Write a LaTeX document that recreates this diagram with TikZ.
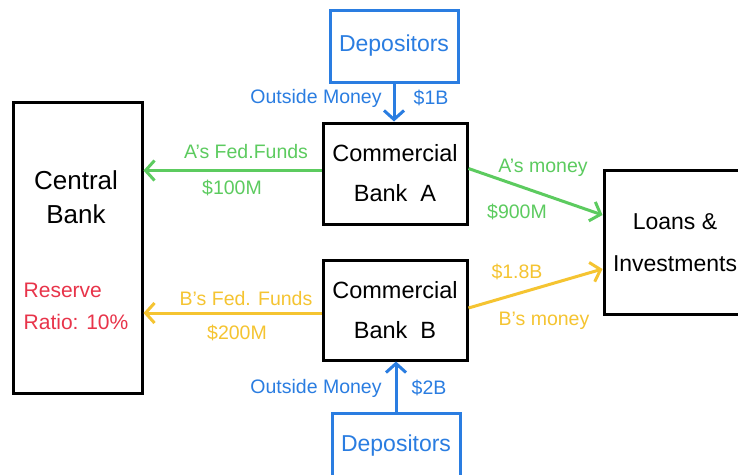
\documentclass[tikz,border=0pt]{standalone}
\usepackage{fontspec}
\setmainfont{Liberation Sans}
\usetikzlibrary{arrows.meta,calc}
\definecolor{cblue}{HTML}{2A7DE1}
\definecolor{cgreen}{HTML}{5CCB5F}
\definecolor{cyellow}{HTML}{F5C431}
\definecolor{cred}{HTML}{E8344A}
\begin{document}
\begin{tikzpicture}[x=1pt,y=-1pt,
  box/.style={draw=black,line width=3pt,inner sep=0pt,align=center,font=\fontsize{23.5}{40}\selectfont},
  bbox/.style={draw=cblue,line width=3pt,inner sep=0pt,align=center,text=cblue,font=\fontsize{23}{26}\selectfont},
  arr/.style={line width=3pt,-{Straight Barb[length=9pt,width=20pt,line width=3pt]}},
  lbl/.style={inner sep=0pt,font=\fontsize{19.5}{22}\selectfont}]
\useasboundingbox (0,0) rectangle (738,474);
\fill[white] (0,0) rectangle (738,474);
% boxes
\node[bbox,minimum width=128pt,minimum height=72pt] (D1) at (394,46) {Depositors};
\node[bbox,minimum width=128pt,minimum height=72pt] (D2) at (396,449) {};
\node[text=cblue,font=\fontsize{23}{26}\selectfont] (D2t) at (396,446) {Depositors};
\node[box,minimum width=129pt,minimum height=291pt] (CB) at (77.5,247.5) {};
\node[font=\fontsize{26}{34}\selectfont,align=center] (CBt) at (76,197) {Central\\Bank};
\node[text=cred,font=\fontsize{21}{32}\selectfont,align=left] (RR) at (76,306) {Reserve\\Ratio: 10\%};
\node[box,minimum width=144pt,minimum height=101pt] (A) at (395,173.5) {Commercial\\Bank\ \ A};
\node[box,minimum width=144pt,minimum height=100pt] (B) at (395,310) {Commercial\\Bank\ \ B};
\node[box,minimum width=144pt,minimum height=144pt] (L) at (676,242) {};
\node[font=\fontsize{23}{42}\selectfont,align=center] (Lt) at (675,243) {Loans \&\\Investments};
% arrows
\draw[arr,cblue] (D1.south) -- (D1.south |- A.north);
\draw[arr,cblue] (D2.north) -- (D2.north |- B.south);
\draw[arr,cgreen] ([yshift=3pt]A.west) -- ([yshift=3pt]CB.east |- A.west);
\draw[arr,cyellow] ([yshift=-3pt]B.west) -- ([yshift=-3pt]CB.east |- B.west);
\draw[arr,cgreen] ([yshift=5pt]A.east) -- ([yshift=27pt]L.west);
\draw[arr,cyellow] ([yshift=2pt]B.east) -- ([yshift=-27pt]L.west);
% labels
\node[lbl,text=cblue] (o1) at (316,98) {Outside Money};
\node[lbl,text=cblue] (m1) at (431,98) {\$1B};
\node[lbl,text=cblue] (o2) at (316,388) {Outside Money};
\node[lbl,text=cblue] (m2) at (429,388) {\$2B};
\node[lbl,text=cgreen] (af) at (246,152) {A's Fed.Funds};
\node[lbl,text=cgreen] (a1) at (232,188) {\$100M};
\node[lbl,text=cyellow] (bf) at (246,299) {B's Fed. Funds};
\node[lbl,text=cyellow] (b2) at (237,333) {\$200M};
\node[lbl,text=cgreen] (am) at (543,168) {A's money};
\node[lbl,text=cgreen] (a9) at (517,212) {\$900M};
\node[lbl,text=cyellow] (b18) at (517,272) {\$1.8B};
\node[lbl,text=cyellow] (bm) at (544,321) {B's money};
\end{tikzpicture}
\end{document}
